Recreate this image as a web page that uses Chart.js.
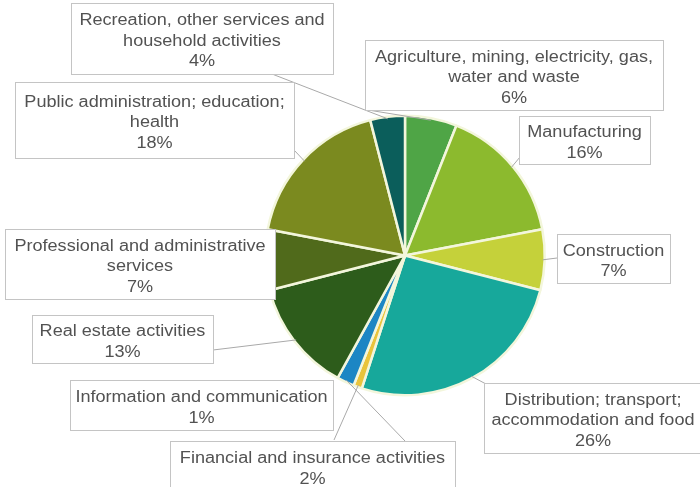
<!DOCTYPE html>
<html>
<head>
<meta charset="utf-8">
<script src="https://cdn.jsdelivr.net/npm/chart.js@4"></script>
<style>
  html, body { margin: 0; padding: 0; background: #fff; }
  #wrap { width: 700px; height: 487px; position: relative; }
</style>
</head>
<body>
<div id="wrap"><canvas id="grafica"></canvas></div>
<script>
// categorias (ya partidas en lineas como en el original)
const sectores = [
    ['Agriculture, mining, electricity, gas,', 'water and waste'],
    ['Manufacturing'],
    ['Construction'],
    ['Distribution; transport;', 'accommodation and food'],
    ['Information and communication'],
    ['Financial and insurance activities'],
    ['Real estate activities'],
    ['Professional and administrative', 'services'],
    ['Public administration; education;', 'health'],
    ['Recreation, other services and', 'household activities']
];
const porcentajes = [6, 16, 7, 26, 1, 2, 13, 7, 18, 4];
const colores = ['#4fa546', '#8cba2e', '#c5d13a', '#17a89b', '#e9c43c',
                 '#1c86c4', '#2d5c1b', '#506a1b', '#7b8a1f', '#0b5e5b'];

// cajas de etiquetas: x, y, ancho, alto y punto de salida de la linea
const cajas = [
    {x: 365, y: 40, w: 298, h: 70, ax: 368, ay: 110},
    {x: 519, y: 116, w: 131, h: 48, ax: 520, ay: 157},
    {x: 557, y: 234, w: 113, h: 49, ax: 557, ay: 258},
    {x: 484, y: 383, w: 218, h: 70, ax: 486, ay: 384},
    {x: 70, y: 380, w: 263, h: 50, ax: 334, ay: 440},
    {x: 170, y: 441, w: 285, h: 50, ax: 405, ay: 441},
    {x: 32, y: 315, w: 181, h: 48, ax: 213, ay: 350},
    {x: 5, y: 229, w: 270, h: 70, ax: null, ay: null},
    {x: 15, y: 82, w: 279, h: 76, ax: 294, ay: 150},
    {x: 71, y: 3, w: 262, h: 71, ax: 272, ay: 74}
];

const etiquetas = {
    id: 'etiquetas',
    afterDraw(chart) {
        const ctx = chart.ctx;
        const arcos = chart.getDatasetMeta(0).data;
        ctx.save();
        // lineas guia
        ctx.strokeStyle = '#a9a9a9';
        ctx.lineWidth = 1;
        arcos.forEach((arco, i) => {
            const c = cajas[i];
            if (c.ax === null) return;
            const medio = (arco.startAngle + arco.endAngle) / 2;
            const tx = arco.x + Math.cos(medio) * (arco.outerRadius - 2);
            const ty = arco.y + Math.sin(medio) * (arco.outerRadius - 2);
            ctx.beginPath();
            ctx.moveTo(c.ax, c.ay);
            ctx.lineTo(tx, ty);
            ctx.stroke();
        });
        // cajas y textos
        ctx.font = '16px "Liberation Sans", Arial, sans-serif';
        ctx.textAlign = 'center';
        ctx.textBaseline = 'middle';
        arcos.forEach((arco, i) => {
            const c = cajas[i];
            ctx.fillStyle = '#ffffff';
            ctx.fillRect(c.x, c.y, c.w, c.h);
            ctx.strokeStyle = '#c4c4c4';
            ctx.strokeRect(c.x + 0.5, c.y + 0.5, c.w, c.h);
            const lineas = sectores[i].concat([porcentajes[i] + '%']);
            const cx = c.x + c.w / 2;
            const y0 = c.y + (c.h - (lineas.length - 1) * 20.5) / 2 + 3;
            ctx.fillStyle = '#525252';
            lineas.forEach((t, k) => {
                ctx.save();
                ctx.translate(cx, y0 + k * 20.5);
                ctx.scale(1.13, 1);
                ctx.fillText(t, 0, 0);
                ctx.restore();
            });
        });
        ctx.restore();
    }
};

new Chart(document.getElementById('grafica'), {
    type: 'pie',
    data: {
        labels: sectores,
        datasets: [{
            data: porcentajes,
            backgroundColor: colores,
            borderColor: '#f3f6dc',
            borderWidth: 2.5
        }]
    },
    options: {
        responsive: true,
        maintainAspectRatio: false,
        animation: false,
        layout: {
            padding: {left: 264, right: 154, top: 114, bottom: 90}
        },
        plugins: {
            legend: {display: false},
            tooltip: {enabled: false}
        }
    },
    plugins: [etiquetas]
});
</script>
</body>
</html>
